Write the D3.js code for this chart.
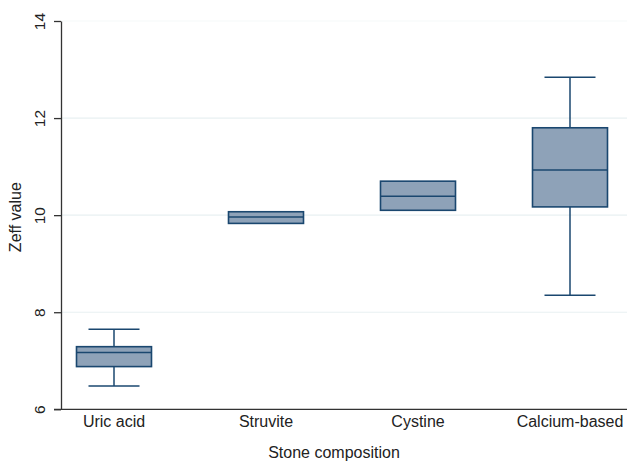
<!DOCTYPE html>
<html>
<head>
<meta charset="utf-8">
<script src="https://cdn.jsdelivr.net/npm/d3@7"></script>
<style>
  body { margin: 0; background: #fff; }
  svg { display: block; font-family: "Liberation Sans", Arial, sans-serif; }
</style>
</head>
<body>
<svg id="chart" width="627" height="461"></svg>
<script>
// Stone composition groups and their Zeff box-plot summaries
const categories = ["Uric acid", "Struvite", "Cystine", "Calcium-based"];
const whiskerLow = [6.48, 9.83, 10.10, 8.35];
const q1         = [6.88, 9.83, 10.10, 10.17];
const median     = [7.17, 9.96, 10.39, 10.93];
const q3         = [7.29, 10.07, 10.70, 11.80];
const whiskerHigh= [7.65, 10.07, 10.70, 12.84];
const yTicks = [6, 8, 10, 12, 14];

const svg = d3.select("#chart");
const axisLeftX = 61, axisBottomY = 409.3, axisTopY = 21, axisRightX = 627;

const y = d3.scaleLinear().domain([6, 14]).range([axisBottomY, axisTopY]);
const x = d3.scaleBand().domain(categories).range([38, 646]).paddingInner(0.5).paddingOuter(0.25);

const boxColor = "#8ea2b8", lineColor = "#1a476f";
const boxW = 75, capW = 51;

// horizontal gridlines
svg.append("g").selectAll("line").data(yTicks.filter(t => t > 6)).join("line")
  .attr("x1", axisLeftX).attr("x2", axisRightX)
  .attr("y1", d => y(d)).attr("y2", d => y(d))
  .attr("stroke", d => d === 14 ? "#f6f9fa" : "#e8f0f2").attr("stroke-width", 1.2);

// y axis
const yAxis = svg.append("g").attr("transform", `translate(${axisLeftX},0)`)
  .call(d3.axisLeft(y).tickValues(yTicks).tickSize(7).tickPadding(4).tickSizeOuter(0));
yAxis.select(".domain").attr("stroke", "#333").attr("stroke-width", 1.3);
yAxis.selectAll(".tick line").attr("stroke", "#333").attr("stroke-width", 1.3);
yAxis.selectAll(".tick text")
  .attr("transform", "rotate(-90)")
  .attr("x", 0).attr("y", -21)
  .attr("text-anchor", "middle")
  .attr("dy", "0.35em")
  .attr("font-size", 15.5).attr("fill", "#222");

// x axis
const xAxis = svg.append("g").attr("transform", `translate(0,${axisBottomY})`)
  .call(d3.axisBottom(x).tickSize(0).tickPadding(6));
xAxis.select(".domain").remove();
xAxis.selectAll(".tick text").attr("font-size", 16).attr("fill", "#222");
svg.append("line").attr("x1", axisLeftX - 7).attr("x2", axisRightX)
  .attr("y1", axisBottomY).attr("y2", axisBottomY)
  .attr("stroke", "#333").attr("stroke-width", 1.3);

// axis titles
svg.append("text").attr("x", 334).attr("y", 458).attr("text-anchor", "middle")
  .attr("font-size", 16).attr("fill", "#222").text("Stone composition");
svg.append("text").attr("transform", `translate(21,${(axisTopY + axisBottomY) / 2 + 2}) rotate(-90)`)
  .attr("text-anchor", "middle").attr("font-size", 16).attr("fill", "#222").text("Zeff value");

// box plots
const data = categories.map((c, i) => ({
  c, lo: whiskerLow[i], q1: q1[i], med: median[i], q3: q3[i], hi: whiskerHigh[i]
}));
const g = svg.append("g").selectAll("g").data(data).join("g")
  .attr("transform", d => `translate(${x(d.c) + x.bandwidth() / 2},0)`);

g.append("line").attr("x1", 0).attr("x2", 0)
  .attr("y1", d => y(d.hi)).attr("y2", d => y(d.q3))
  .attr("stroke", lineColor).attr("stroke-width", 1.5);
g.append("line").attr("x1", 0).attr("x2", 0)
  .attr("y1", d => y(d.q1)).attr("y2", d => y(d.lo))
  .attr("stroke", lineColor).attr("stroke-width", 1.5);
g.filter(d => d.hi > d.q3).append("line").attr("x1", -capW / 2).attr("x2", capW / 2)
  .attr("y1", d => y(d.hi)).attr("y2", d => y(d.hi))
  .attr("stroke", lineColor).attr("stroke-width", 1.5);
g.filter(d => d.lo < d.q1).append("line").attr("x1", -capW / 2).attr("x2", capW / 2)
  .attr("y1", d => y(d.lo)).attr("y2", d => y(d.lo))
  .attr("stroke", lineColor).attr("stroke-width", 1.5);
g.append("rect").attr("x", -boxW / 2).attr("width", boxW)
  .attr("y", d => y(d.q3)).attr("height", d => y(d.q1) - y(d.q3))
  .attr("fill", boxColor).attr("stroke", lineColor).attr("stroke-width", 1.6);
g.append("line").attr("x1", -boxW / 2).attr("x2", boxW / 2)
  .attr("y1", d => y(d.med)).attr("y2", d => y(d.med))
  .attr("stroke", lineColor).attr("stroke-width", 1.5);
</script>
</body>
</html>
